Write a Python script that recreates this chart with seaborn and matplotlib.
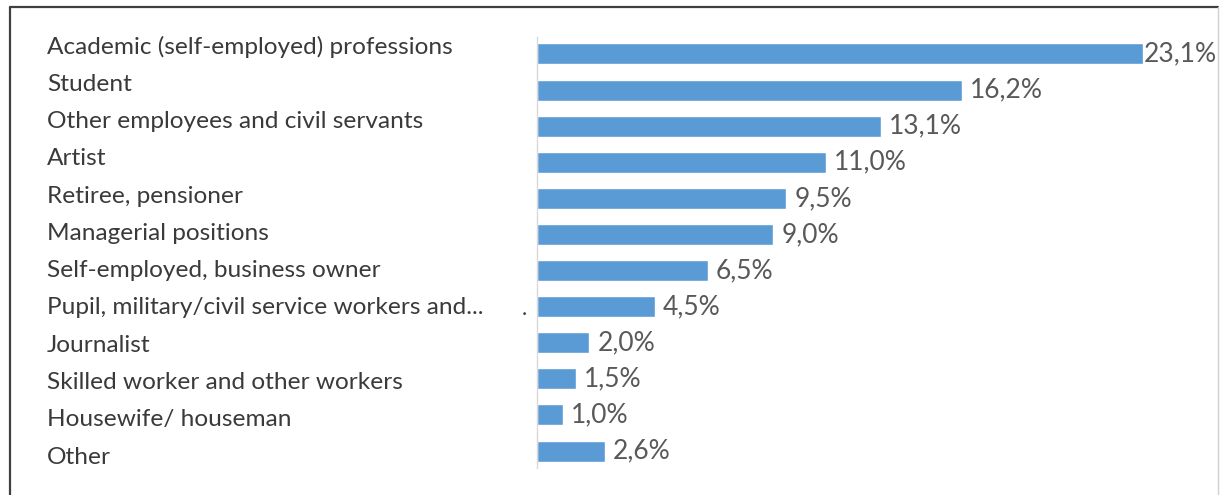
import matplotlib
matplotlib.use("Agg")
import matplotlib.pyplot as plt
from matplotlib.lines import Line2D
from matplotlib.transforms import blended_transform_factory
import seaborn as sns
import pandas as pd

categories = [
    "Academic (self-employed) professions",
    "Student",
    "Other employees and civil servants",
    "Artist",
    "Retiree, pensioner",
    "Managerial positions",
    "Self-employed, business owner",
    "Pupil, military/civil service workers and...",
    "Journalist",
    "Skilled worker and other workers",
    "Housewife/ houseman",
    "Other",
]
shares = [23.1, 16.2, 13.1, 11.0, 9.5, 9.0, 6.5, 4.5, 2.0, 1.5, 1.0, 2.6]

sns.set_style("white")
plt.rcParams["font.family"] = ["Lato", "DejaVu Sans"]

df = pd.DataFrame({"category": categories, "share": shares})

W, H, DPI = 1220, 495, 100
fig = plt.figure(figsize=(W / DPI, H / DPI), dpi=DPI)
ax = fig.add_axes([537 / W, 1 - 468 / H, (1180 - 537) / W, (468 - 37) / H])

sns.barplot(data=df, x="share", y="category", orient="h", color="#5B9BD5",
            width=0.58, saturation=1, ax=ax)

ax.set_xlim(0, 24.5)
ax.set_ylim(len(categories) - 1 + 0.47, -0.47)
ax.set_xlabel("")
ax.set_ylabel("")
ax.set_xticks([])
ax.set_yticks([])

for side in ("top", "right", "bottom"):
    ax.spines[side].set_visible(False)
ax.spines["left"].set_color("#D9D9D9")
ax.spines["left"].set_linewidth(1.0)

# category names in their own column on the left, slightly wider line spacing
label_tr = blended_transform_factory(fig.transFigure, ax.transData)
for i, name in enumerate(categories):
    ax.text(47 / W, -0.194 + i * 1.0327, name, transform=label_tr,
            ha="left", va="center", fontsize=17.6, color="#3A3A3A")

# value labels with decimal comma
top = max(shares)
for patch, v in zip(ax.patches, shares):
    pad = 0.5 if v == top else 8
    ax.annotate(f"{v:.1f}%".replace(".", ","),
                xy=(patch.get_width(), patch.get_y() + patch.get_height() / 2),
                xytext=(pad * 72 / DPI, 0), textcoords="offset points",
                ha="left", va="center", fontsize=19.0, color="#595959")

# stray dot next to the axis
ax.text(-13 / 26.23, 7.23, ".", ha="center", va="baseline", fontsize=16,
        color="#404040")

# frame around the chart
fig.add_artist(Line2D([10 / W, 10 / W], [0, 1 - 7 / H], transform=fig.transFigure,
                      color="#404040", linewidth=1.6))
fig.add_artist(Line2D([10 / W, 1218 / W], [1 - 7 / H, 1 - 7 / H],
                      transform=fig.transFigure, color="#404040", linewidth=1.6))
fig.add_artist(Line2D([1218 / W, 1218 / W], [0, 1 - 7 / H], transform=fig.transFigure,
                      color="#D0D0D0", linewidth=1.0))

fig.savefig("out.png", dpi=DPI)
